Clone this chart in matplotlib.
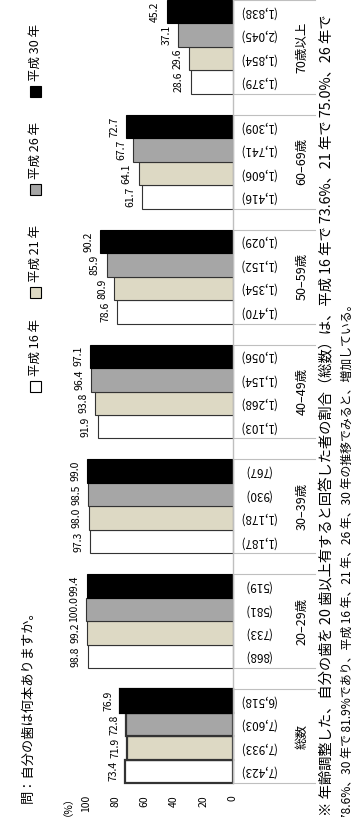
import matplotlib
matplotlib.use('Agg')
import matplotlib.pyplot as plt
import numpy as np

plt.rcParams['font.family'] = ['Noto Sans CJK JP', 'DejaVu Sans']

# data
categories = ['総数', '20–29歳', '30–39歳', '40–49歳', '50–59歳', '60–69歳', '70歳以上']
series = ['平成 16 年', '平成 21 年', '平成 26 年', '平成 30 年']
h16 = [73.4, 98.8, 97.3, 91.9, 78.6, 61.7, 28.6]
h21 = [71.9, 99.2, 98.0, 93.8, 80.9, 64.1, 29.6]
h26 = [72.8, 100.0, 98.5, 96.4, 85.9, 67.7, 37.1]
h30 = [76.9, 99.4, 99.0, 97.1, 90.2, 72.7, 45.2]
n16 = [7423, 868, 1187, 1103, 1470, 1416, 1379]
n21 = [7933, 733, 1178, 1268, 1354, 1606, 1854]
n26 = [7603, 581, 930, 1154, 1152, 1741, 2045]
n30 = [6518, 519, 767, 1056, 1029, 1309, 1838]
ticks = [0, 20, 40, 60, 80, 100]

values = [h16, h21, h26, h30]
counts = [n16, n21, n26, n30]
colors = ['white', '#DDD9C4', '#A6A6A6', 'black']
edges = ['#333333', '#333333', '#333333', 'black']

W, H = 353, 817
fig = plt.figure(figsize=(W / 100, H / 100), dpi=100)

def fx(x):
    return x / W
def fy(y):
    return 1 - y / H

# chart is laid out sideways: bars grow leftwards from the axis at the right
ax = fig.add_axes([fx(86), fy(793.5), 147 / W, 804 / H])
ax.set_xlim(100, 0)
ax.set_ylim(-0.5, 6.5)

h = 0.2045
ypos = np.arange(len(categories))
for k in range(4):
    yk = ypos + (k - 1.5) * h
    lw = [1.6] + [0.8] * (len(categories) - 1)
    ax.barh(yk, values[k], height=h, color=colors[k], edgecolor=edges[k],
            linewidth=lw, clip_on=False)
    for i in range(len(categories)):
        ax.annotate(f'{values[k][i]:.1f}', xy=(values[k][i], yk[i]),
                    xytext=(-5, 0), textcoords='offset points',
                    rotation=90, ha='right', va='center', fontsize=7.5)
        ax.text(1.163, yk[i], f'({counts[k][i]:,})', transform=ax.get_yaxis_transform(),
                rotation=180, ha='center', va='center', fontsize=8.5)

# category axis and table grid
grey = '#BFBFBF'
ax.plot([0, 0], [-2 * h, 7], color=grey, lw=1, clip_on=False)
tr = ax.get_yaxis_transform()
for i in range(len(categories)):
    for yy in (i - 2 * h, i + 2 * h):
        ax.plot([1.0, 1.56], [yy, yy], color=grey, lw=0.8, transform=tr, clip_on=False)
    ax.text(1.469, i, categories[i], transform=tr, rotation=90,
            ha='center', va='center', fontsize=9)

for s in ax.spines.values():
    s.set_visible(False)
ax.set_yticks([])
ax.set_xticks(ticks)
ax.set_xticklabels([str(t) for t in ticks])
ax.tick_params(axis='x', length=0, pad=1, labelrotation=90, labelsize=7.5)

fig.text(fx(63), fy(801), '（%）', rotation=90, ha='center', va='center', fontsize=7.5)

# title
fig.text(fx(28), fy(803), '問：自分の歯は何本ありますか。', rotation=90,
         rotation_mode='anchor', ha='left', va='center', fontsize=9.5)

# legend
leg_y = [386, 292, 189, 91]
for k in range(4):
    fig.patches.append(plt.Rectangle((fx(29.5), fy(leg_y[k] + 5.5)), 11 / W, 11 / H,
                                     transform=fig.transFigure, facecolor=colors[k],
                                     edgecolor='black', lw=0.8))
    fig.text(fx(35), fy(leg_y[k] - 10), series[k], rotation=90,
             rotation_mode='anchor', ha='left', va='center', fontsize=9)

# note
note1 = '※ 年齢調整した、自分の歯を 20 歯以上有すると回答した者の割合（総数）は、平成 16 年で 73.6%、21 年で 75.0%、26 年で'
note2 = '78.6%、30 年で 81.9%であり、平成 16 年、21 年、26 年、30 年の推移でみると、増加している。'
fig.text(fx(326), fy(816), note1, rotation=90, rotation_mode='anchor',
         ha='left', va='center', fontsize=10.3)
fig.text(fx(347), fy(820), note2, rotation=90, rotation_mode='anchor',
         ha='left', va='center', fontsize=8.6)

fig.savefig('out.png', dpi=100)
